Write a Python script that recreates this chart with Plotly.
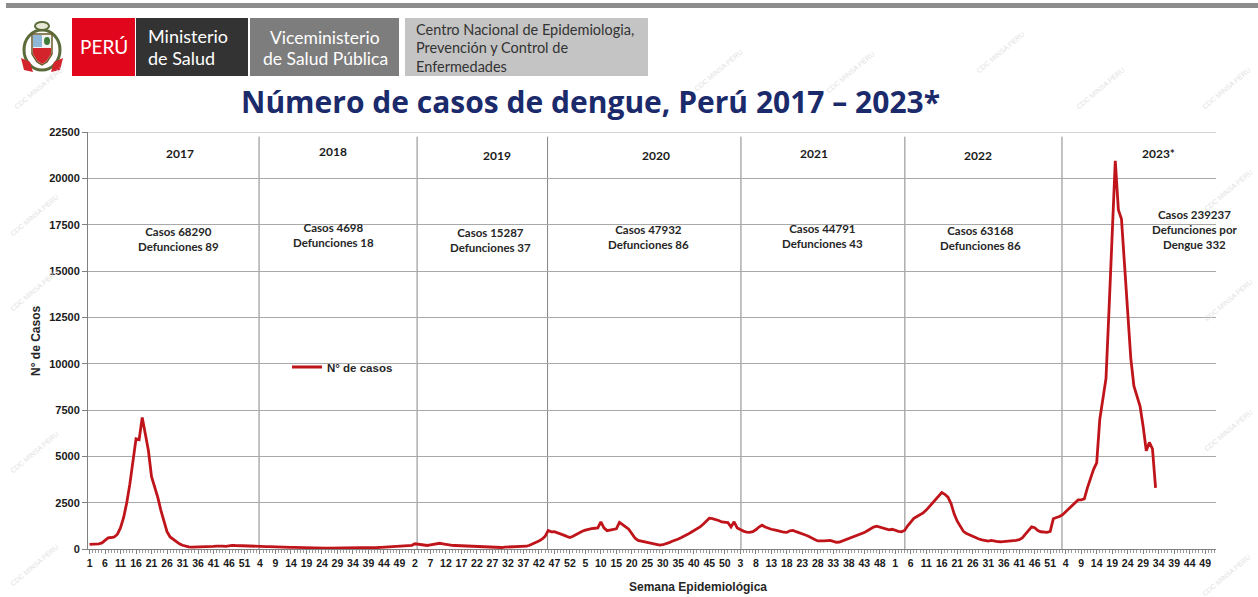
import plotly.graph_objects as go

# Casos semanales de dengue por año (semanas epidemiológicas 1-52)
casos_2017 = [250, 250, 260, 280, 330, 450, 600, 620, 650, 800,
              1150, 1700, 2500, 3500, 4700, 5950, 5900, 7100, 6200, 5300,
              3900, 3400, 2800, 2100, 1550, 940, 650, 520, 400, 280,
              200, 140, 110, 100, 100, 100, 110, 120, 120, 130,
              140, 150, 160, 150, 140, 180, 200, 190, 180, 170,
              180, 190]
casos_2018 = [170, 160, 150, 140, 140, 130, 130, 120, 120, 110,
              110, 100, 100, 90, 90, 90, 80, 80, 70, 70,
              60, 60, 50, 50, 50, 40, 40, 40, 40, 40,
              40, 40, 40, 50, 50, 50, 60, 60, 70, 70,
              80, 80, 90, 100, 100, 110, 120, 130, 140, 150,
              160, 188]
casos_2019 = [200, 280, 260, 210, 180, 190, 220, 250, 280, 310,
              280, 240, 210, 200, 190, 180, 180, 170, 160, 150,
              150, 140, 140, 130, 120, 110, 100, 90, 80, 80,
              100, 110, 110, 110, 110, 120, 130, 150, 200, 270,
              350, 430, 530, 680, 1000, 927, 930, 880, 820, 750,
              680, 620]
casos_2020 = [690, 790, 890, 960, 1020, 1070, 1100, 1120, 1140, 1460,
              1140, 990, 1020, 1040, 1090, 1440, 1290, 1190, 1070, 840,
              590, 460, 420, 380, 360, 340, 290, 240, 210, 230,
              270, 340, 420, 470, 540, 620, 690, 790, 890, 990,
              1070, 1190, 1340, 1490, 1662, 1640, 1600, 1540, 1460, 1440,
              1420, 1190]
casos_2021 = [1466, 1135, 1035, 965, 915, 895, 935, 1035, 1185, 1285,
              1185, 1115, 1065, 1035, 1015, 955, 905, 895, 985, 1005,
              935, 885, 835, 755, 685, 585, 515, 435, 415, 435,
              455, 465, 415, 365, 375, 435, 485, 555, 635, 685,
              735, 815, 885, 985, 1085, 1185, 1235, 1185, 1135, 1085,
              1035, 1065]
casos_2022 = [1000, 950, 930, 1000, 1250, 1450, 1650, 1750, 1850, 1950,
              2100, 2300, 2500, 2650, 2850, 3050, 2950, 2800, 2450, 1900,
              1500, 1200, 950, 830, 750, 680, 600, 540, 490, 450,
              430, 460, 420, 400, 390, 400, 420, 430, 450, 470,
              500, 600, 800, 1000, 1200, 1150, 1000, 930, 920, 900,
              950, 1628]
casos_2023 = [1700, 1750, 1850, 2000, 2150, 2300, 2500, 2650, 2650, 2700,
              3300, 3850, 4300, 4650, 7000, 8100, 9200, 13000, 16987, 20950,
              18300, 17800, 15300, 12800, 10300, 8800, 8300, 7700, 6600, 5300,
              5750, 5400, 3300]

anios = ["2017", "2018", "2019", "2020", "2021", "2022", "2023*"]
resumen = ["Casos 68290<br>Defunciones 89",
           "Casos 4698<br>Defunciones 18",
           "Casos 15287<br>Defunciones 37",
           "Casos 47932<br>Defunciones 86",
           "Casos 44791<br>Defunciones 43",
           "Casos 63168<br>Defunciones 86",
           "Casos 239237<br>Defunciones por<br>Dengue 332"]
semanas_por_anio = 52
ticks_y = [0, 2500, 5000, 7500, 10000, 12500, 15000, 17500, 20000, 22500]

series = [casos_2017, casos_2018, casos_2019, casos_2020,
          casos_2021, casos_2022, casos_2023]

# Eje continuo de semanas (índice) y su etiqueta de semana epidemiológica
semana_lbl = []
for _ in anios:
    semana_lbl += list(range(1, semanas_por_anio + 1))
valores = [v for s in series for v in s]
idx = list(range(len(valores)))
tick_pos = list(range(0, len(semana_lbl), 5))
tick_txt = [str(semana_lbl[i]) for i in tick_pos]

# Geometría de la figura (px)
W_FIG, H_FIG = 1258, 597
M_L, M_R, M_T, M_B = 88, 42, 132, 48
PW = W_FIG - M_L - M_R
PH = H_FIG - M_T - M_B


def px(x):
    return (x - M_L) / PW


def py(y):
    return (M_T + PH - y) / PH


RED = "#c0141b"
GRID = "#a9a9a9"
AXIS = "#808080"

fig = go.Figure()
fig.add_trace(go.Scatter(
    x=idx, y=valores, mode="lines", name="N° de casos",
    line=dict(color=RED, width=2.8), showlegend=True,
    hoverinfo="skip"))

shapes = []
annotations = []

# Línea superior del área del gráfico
shapes.append(dict(type="line", xref="paper", yref="y", x0=0, x1=1,
                   y0=22500, y1=22500, line=dict(color=GRID, width=1)))

# Separadores de año
cortes_anuales = [54.7, 105.7, 147.8, 210.2, 263.1, 313.8]
for c in cortes_anuales:
    shapes.append(dict(type="line", xref="x", yref="y", x0=c, x1=c,
                       y0=0, y1=22250, line=dict(color="#858585", width=1),
                       layer="below"))

# Rótulos de año y resumen anual
pos_anio = [(180, 153), (333, 151), (497, 155), (656, 155),
            (814, 153), (978, 155), (1158, 153)]
pos_res = [(178, 239), (333, 235), (490, 240), (648, 237),
           (822, 236), (980, 238), (1195, 229)]
FONT_TXT = "Lato"
for a, (ax_, ay_) in zip(anios, pos_anio):
    annotations.append(dict(text="<b>%s</b>" % a, x=px(ax_), y=py(ay_),
                            xref="paper", yref="paper", showarrow=False,
                            font=dict(family=FONT_TXT, size=12, color="#1a1a1a"),
                            xanchor="center", yanchor="middle"))
for r, (rx, ry) in zip(resumen, pos_res):
    annotations.append(dict(text="<b>%s</b>" % r, x=px(rx), y=py(ry),
                            xref="paper", yref="paper", showarrow=False,
                            align="center",
                            font=dict(family=FONT_TXT, size=11.5, color="#262626"),
                            xanchor="center", yanchor="middle"))

# Títulos de ejes
annotations.append(dict(text="<b>N° de Casos</b>", x=px(36), y=py(341),
                        xref="paper", yref="paper", showarrow=False,
                        textangle=-90,
                        font=dict(family="Liberation Sans", size=12, color="#262626"),
                        xanchor="center", yanchor="middle"))
annotations.append(dict(text="<b>Semana Epidemiológica</b>", x=px(698), y=py(587),
                        xref="paper", yref="paper", showarrow=False,
                        font=dict(family="Liberation Sans", size=12, color="#262626"),
                        xanchor="center", yanchor="middle"))

# Título principal
annotations.append(dict(text="<b>Número de casos de dengue, Perú 2017 – 2023*</b>",
                        x=px(590), y=py(101), xref="paper", yref="paper",
                        showarrow=False,
                        font=dict(family="Open Sans", size=30, color="#1b2a6b"),
                        xanchor="center", yanchor="middle"))

# Cabecera institucional
shapes.append(dict(type="rect", xref="paper", yref="paper",
                   x0=px(6), x1=px(1258), y0=py(3), y1=py(8),
                   fillcolor="#8c8c8c", line=dict(width=0)))
bloques = [(72, 135, "#e1061b"), (136, 248, "#333333"),
           (250, 399, "#7d7d7d"), (405, 648, "#c4c4c4")]
for x0, x1, col in bloques:
    shapes.append(dict(type="rect", xref="paper", yref="paper",
                       x0=px(x0), x1=px(x1), y0=py(18), y1=py(76),
                       fillcolor=col, line=dict(width=0)))


def txt(t, x, y, size, color, xanchor="left", family="Lato"):
    annotations.append(dict(text=t, x=px(x), y=py(y), xref="paper", yref="paper",
                            showarrow=False, xanchor=xanchor, yanchor="middle",
                            font=dict(family=family, size=size, color=color)))


txt("PERÚ", 104, 47, 19, "white", "center")
txt("Ministerio", 146, 36, 18, "white")
txt("de Salud", 146, 58, 18, "white")
txt("Viceministerio", 325, 37, 17.5, "white", "center")
txt("de Salud Pública", 325, 59, 17.5, "white", "center")
txt("Centro Nacional de Epidemiologia,", 414, 30, 14.5, "#333333")
txt("Prevención y Control de", 414, 48, 14.5, "#333333")
txt("Enfermedades", 414, 66, 14.5, "#333333")

# Escudo nacional (simplificado)
def pth(points):
    d = "M " + " L ".join("%f,%f" % (px(a), py(b)) for a, b in points) + " Z"
    return d


shapes.append(dict(type="circle", xref="paper", yref="paper",
                   x0=px(24), x1=px(60), y0=py(30), y1=py(70),
                   line=dict(color="#5b6b3a", width=3), fillcolor="rgba(0,0,0,0)"))
shapes.append(dict(type="circle", xref="paper", yref="paper",
                   x0=px(35), x1=px(49), y0=py(22), y1=py(30),
                   line=dict(color="#5b6b3a", width=2), fillcolor="#e9e9d8"))
shapes.append(dict(type="path", xref="paper", yref="paper",
                   path=pth([(32, 34), (52, 34), (52, 54), (47, 62), (42, 65), (37, 62), (32, 54)]),
                   fillcolor="#f2f2f2", line=dict(color="#6b5a2a", width=1.5)))
shapes.append(dict(type="path", xref="paper", yref="paper",
                   path=pth([(33, 35), (42, 35), (42, 47), (33, 47)]),
                   fillcolor="#8fb8d8", line=dict(width=0)))
shapes.append(dict(type="circle", xref="paper", yref="paper",
                   x0=px(44), x1=px(50), y0=py(37), y1=py(45),
                   fillcolor="#3f7a3a", line=dict(width=0)))
shapes.append(dict(type="path", xref="paper", yref="paper",
                   path=pth([(33, 48), (51, 48), (51, 54), (46.5, 61), (42, 64), (37.5, 61), (33, 54)]),
                   fillcolor="#d3232b", line=dict(width=0)))
shapes.append(dict(type="path", xref="paper", yref="paper",
                   path=pth([(21, 58), (30, 62), (33, 72), (24, 70)]),
                   fillcolor="#d3232b", line=dict(width=0)))
shapes.append(dict(type="path", xref="paper", yref="paper",
                   path=pth([(63, 58), (54, 62), (51, 72), (60, 70)]),
                   fillcolor="#d3232b", line=dict(width=0)))

# Marcas de agua
marcas = [(38, 88), (718, 70), (850, 72), (1000, 52), (1100, 88), (1226, 88),
          (1228, 190), (1228, 300), (1228, 430), (34, 290), (34, 452),
          (34, 565), (1226, 575), (34, 215)]
for mx, my in marcas:
    annotations.append(dict(text="CDC MINSA PERU", x=px(mx), y=py(my),
                            xref="paper", yref="paper", showarrow=False,
                            textangle=-40,
                            font=dict(family="Liberation Sans", size=7, color="#e2e2e2"),
                            xanchor="center", yanchor="middle"))

fig.update_layout(
    width=W_FIG, height=H_FIG,
    margin=dict(l=M_L, r=M_R, t=M_T, b=M_B, pad=0),
    paper_bgcolor="white", plot_bgcolor="white",
    shapes=shapes, annotations=annotations,
    showlegend=True,
    legend=dict(x=px(287), y=py(367), xanchor="left", yanchor="middle",
                bgcolor="rgba(0,0,0,0)", itemwidth=30, tracegroupgap=0,
                font=dict(family="Liberation Sans", size=11.5, color="#262626",
                          weight="bold")),
    xaxis=dict(range=[-0.5, len(semana_lbl) - 0.5], tickmode="array",
               tickvals=tick_pos, ticktext=tick_txt, tickangle=0,
               showgrid=False, zeroline=False, showline=True,
               linecolor=AXIS, linewidth=1, ticks="outside", ticklen=4,
               tickcolor=AXIS,
               minor=dict(tickmode="linear", tick0=0, dtick=1, ticks="outside",
                          ticklen=3, tickcolor="#9a9a9a", showgrid=False),
               tickfont=dict(family="Liberation Sans", size=10.5, color="#1a1a1a",
                             weight="bold")),
    yaxis=dict(range=[0, 22500], tickmode="array", tickvals=ticks_y,
               ticktext=[str(t) for t in ticks_y],
               showgrid=True, gridcolor=GRID, gridwidth=1, zeroline=False,
               showline=True, linecolor=AXIS, linewidth=1, ticks="outside",
               ticklen=5, tickcolor=AXIS,
               tickfont=dict(family="Liberation Sans", size=11, color="#1a1a1a",
                             weight="bold")),
)

fig.write_html("out.html")
